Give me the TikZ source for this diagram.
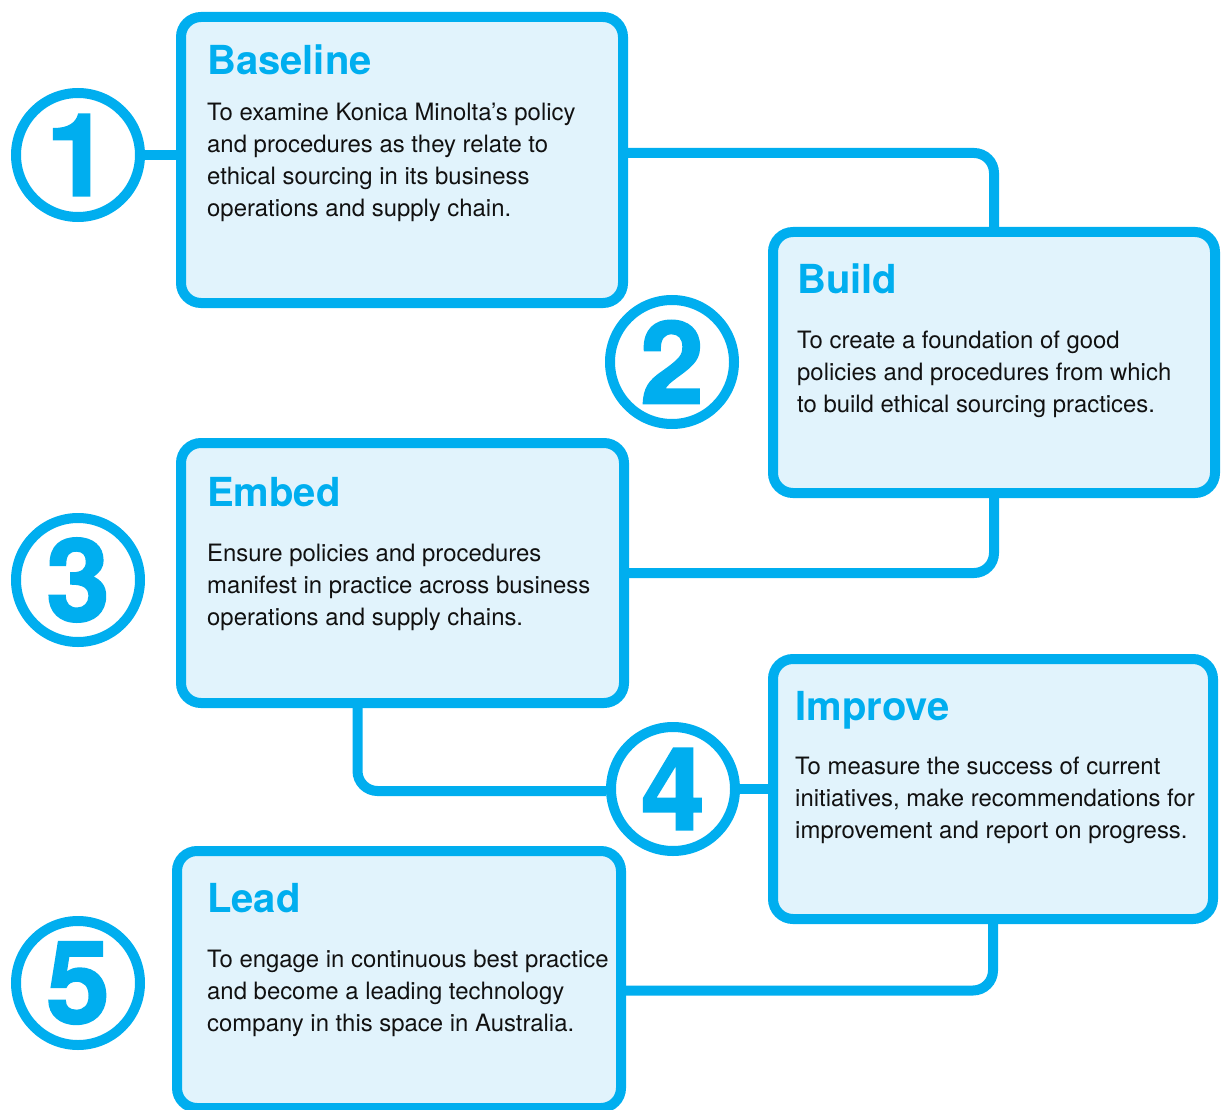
\documentclass[tikz,border=0pt]{standalone}
\usepackage{fontspec}
\setmainfont{TeX Gyre Heros}
\newfontfamily\numfont{texgyreheros-bold.otf}[FakeBold=1.5]
\usetikzlibrary{backgrounds}
\definecolor{kmblue}{HTML}{00AEEF}
\definecolor{kmfill}{HTML}{E1F3FC}
\definecolor{kmtext}{HTML}{111111}
\tikzset{
  stagebox/.style={draw=kmblue, fill=kmfill, line width=10pt, rounded corners=20pt,
    rectangle, inner sep=0pt, minimum width=#1},
  numcircle/.style={draw=kmblue, fill=white, line width=10pt, circle, inner sep=0pt,
    minimum size=124pt, text=kmblue, font=\numfont\fontsize{115}{115}\selectfont},
  conn/.style={draw=kmblue, line width=10pt, rounded corners=20pt},
  stagetitle/.style={anchor=base west, inner sep=0pt, text=kmblue,
    font=\bfseries\fontsize{40}{40}\selectfont},
  stagebody/.style={anchor=base west, inner sep=0pt, text=kmtext}
}
\newcommand{\bodylines}[1]{\parbox[t]{520pt}{\fontsize{23.9}{32}\selectfont\raggedright #1}}
\begin{document}
\begin{tikzpicture}[x=1pt,y=-1pt]
\useasboundingbox (0,0) rectangle (1226,1110);
% boxes
\node[stagebox=442pt, minimum height=286pt] (box1) at (402,160) {};
\node[stagebox=442pt, minimum height=261pt] (box2) at (994,362.5) {};
\node[stagebox=443pt, minimum height=260pt] (box3) at (402.5,573) {};
\node[stagebox=440pt, minimum height=260pt] (box4) at (993,789) {};
\node[stagebox=444pt, minimum height=257pt] (box5) at (399,979.5) {};
% circles
\node[numcircle] (c1) at (78,155) {1};
\node[numcircle] (c2) at (672,362) {2};
\node[numcircle] (c3) at (78,580) {3};
\node[numcircle] (c4) at (673,789) {4};
\node[numcircle] (c5) at (78,983) {5};
% connectors behind
\begin{pgfonlayer}{background}
\draw[conn] (c1.east) -- (c1.east -| box1.west);
\draw[conn] ([yshift=7pt]box1.east) -| (box2.north);
\draw[conn] (box2.south) |- (box3.east);
\draw[conn] ([xshift=-45pt]box3.south) |- ([yshift=-2pt]c4.west);
\draw[conn] (c4.east) -- (c4.east -| box4.west);
\draw[conn] (box4.south) |- ([yshift=-11pt]box5.east);
\end{pgfonlayer}
% texts
\node[stagetitle] (t1) at (207,75) {Baseline};
\node[stagebody] (b1) at (207,121) {\bodylines{To examine Konica Minolta’s policy\\
and procedures as they relate to\\ ethical sourcing in its business\\ operations and supply chain.}};
\node[stagetitle] (t2) at (797,293) {Build};
\node[stagebody] (b2) at (797,348) {\bodylines{To create a foundation of good\\
policies and procedures from which\\ to build ethical sourcing practices.}};
\node[stagetitle] (t3) at (207,506) {Embed};
\node[stagebody] (b3) at (207,561) {\bodylines{Ensure policies and procedures\\
manifest in practice across business\\ operations and supply chains.}};
\node[stagetitle] (t4) at (795,720) {Improve};
\node[stagebody] (b4) at (795,774) {\bodylines{To measure the success of current\\
initiatives, make recommendations for\\ improvement and report on progress.}};
\node[stagetitle] (t5) at (207,912) {Lead};
\node[stagebody] (b5) at (207,967) {\bodylines{To engage in continuous best practice\\
and become a leading technology\\ company in this space in Australia.}};
\end{tikzpicture}
\end{document}
